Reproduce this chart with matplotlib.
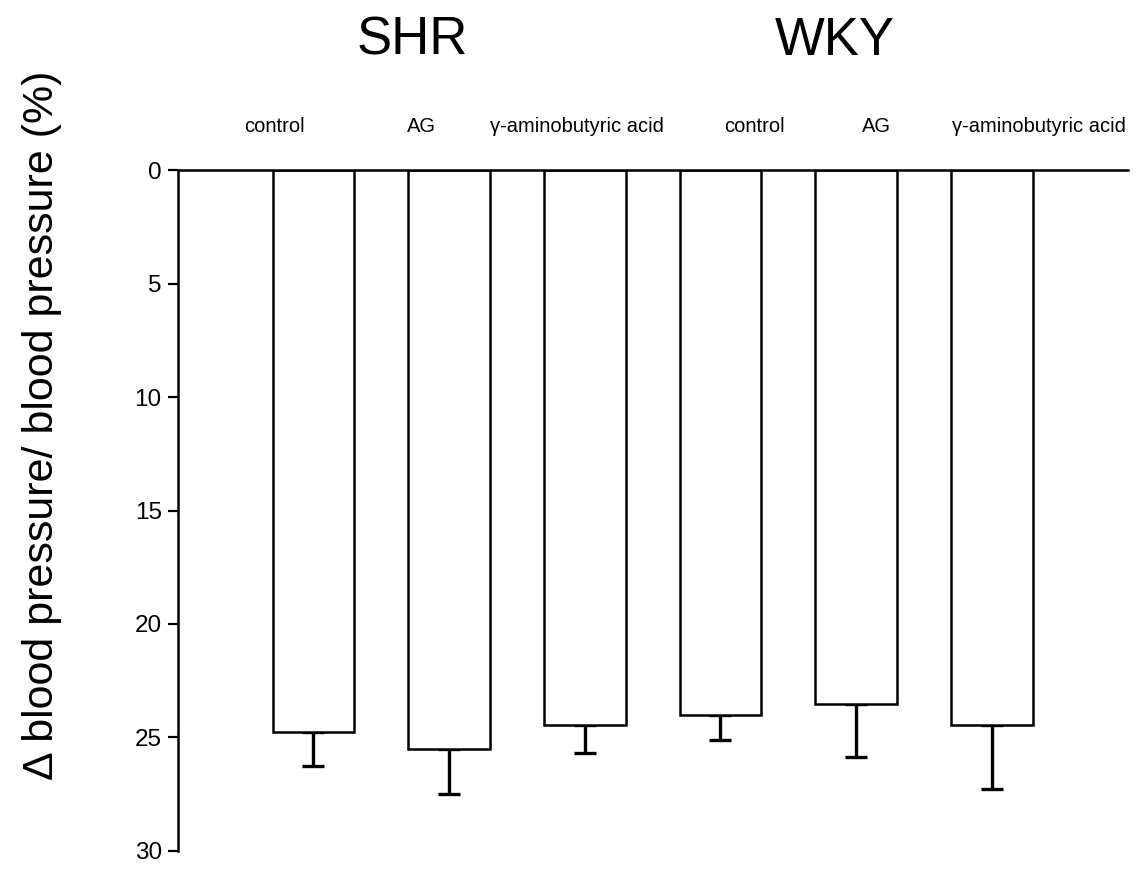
import numpy as np
import matplotlib
matplotlib.use("Agg")
import matplotlib.pyplot as plt

plt.rcParams['font.family'] = ['Liberation Sans', 'DejaVu Sans']

# data
groups = ["SHR", "WKY"]
treatments = ["control", "AG", "γ-aminobutyric acid"]
shr_mean = [24.77, 25.52, 24.46]
shr_err = [1.49, 1.96, 1.21]
wky_mean = [24.0, 23.53, 24.47]
wky_err = [1.11, 2.35, 2.80]
y_ticks = [0, 5, 10, 15, 20, 25, 30]

means = shr_mean + wky_mean
errs = shr_err + wky_err
labels = treatments + treatments
x = np.arange(len(means))

fig = plt.figure(figsize=(11.39, 8.69), dpi=100)
ax = fig.add_axes([0.156, 0.021, 0.834, 0.783])

ax.bar(x, means, width=0.6, color="white", edgecolor="black", linewidth=1.8,
       zorder=3)
# one-sided error bars (toward larger values), drawn under the bars
ax.errorbar(x, means, yerr=[np.zeros(len(errs)), errs], fmt="none",
            ecolor="black", elinewidth=2.4, capsize=8, capthick=2.4, zorder=2)

ax.set_xlim(-1.0, 6.0)
ax.set_ylim(30, 0)
ax.set_yticks(y_ticks)
ax.set_yticklabels([str(t) for t in y_ticks], fontsize=17.5)
ax.tick_params(axis="y", direction="out", length=7.5, width=1.6, pad=4)
ax.set_xticks([])

for s in ["right", "bottom"]:
    ax.spines[s].set_visible(False)
ax.spines["left"].set_linewidth(1.8)
ax.spines["top"].set_linewidth(1.8)
ax.spines["top"].set_zorder(4)

ax.set_ylabel("Δ blood pressure/ blood pressure (%)", fontsize=31)
ax.yaxis.set_label_coords(-0.122, 0.625)

# treatment labels above the bars (slightly off-centre as in the original)
offsets = [-0.29, -0.2, -0.06, 0.25, 0.15, 0.35]
for xi, lab, off in zip(x, labels, offsets):
    ax.text(xi + off, 1.065, lab, transform=ax.get_xaxis_transform(),
            ha="center", va="center", fontsize=14.5)

# group titles
fig.text(0.362, 0.953, groups[0], ha="center", va="center", fontsize=38)
fig.text(0.733, 0.953, groups[1], ha="center", va="center", fontsize=38)

fig.savefig("out.png", dpi=100)
